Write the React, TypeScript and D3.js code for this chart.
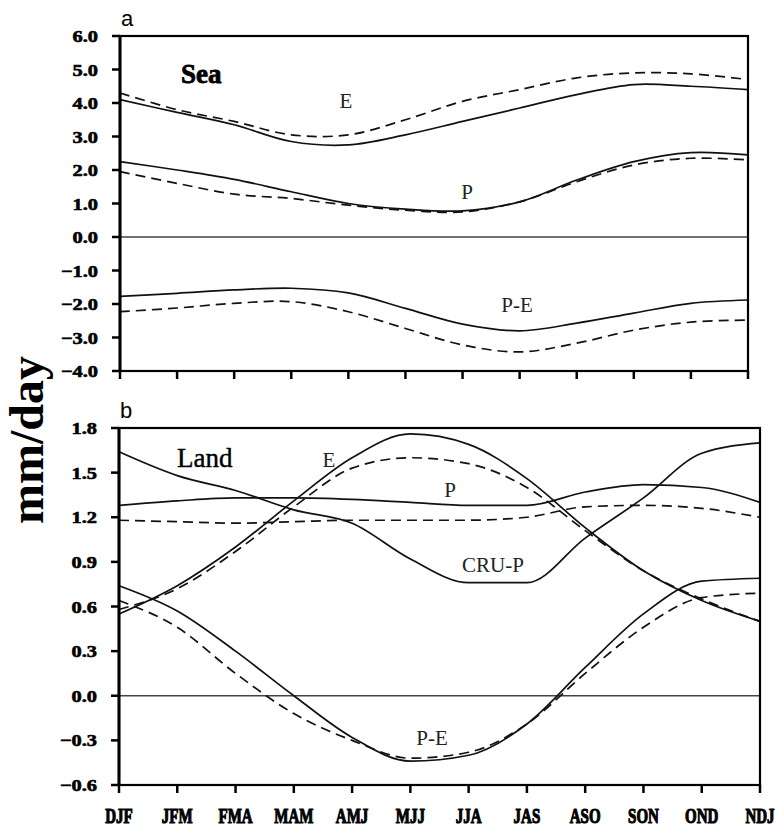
import React, { useRef, useEffect } from 'react';
import * as d3 from 'd3';

// seasons on the x axis
const seasons = ['DJF', 'JFM', 'FMA', 'MAM', 'AMJ', 'MJJ', 'JJA', 'JAS', 'ASO', 'SON', 'OND', 'NDJ'];

// panel a: Sea (solid = model, dashed = reference)
const seaE = [4.1, 3.72, 3.35, 2.85, 2.75, 3.05, 3.45, 3.85, 4.25, 4.55, 4.5, 4.4];
const seaEDash = [4.3, 3.8, 3.45, 3.05, 3.05, 3.5, 4.05, 4.4, 4.75, 4.9, 4.87, 4.7];
const seaP = [2.25, 2.0, 1.72, 1.35, 1.0, 0.83, 0.78, 1.05, 1.7, 2.25, 2.52, 2.45];
const seaPDash = [1.95, 1.6, 1.28, 1.15, 0.95, 0.8, 0.75, 1.05, 1.65, 2.15, 2.35, 2.3];
const seaPE = [-1.77, -1.68, -1.58, -1.53, -1.67, -2.13, -2.6, -2.8, -2.57, -2.27, -1.98, -1.88];
const seaPEDash = [-2.23, -2.12, -1.98, -1.93, -2.23, -2.73, -3.22, -3.43, -3.17, -2.78, -2.54, -2.48];
const seaTicks = [-4, -3, -2, -1, 0, 1, 2, 3, 4, 5, 6];

// panel b: Land
const landE = [0.55, 0.74, 1.0, 1.31, 1.6, 1.76, 1.69, 1.46, 1.13, 0.84, 0.64, 0.5];
const landEDash = [0.58, 0.72, 0.97, 1.27, 1.53, 1.6, 1.56, 1.4, 1.11, 0.84, 0.65, 0.5];
const landP = [1.28, 1.31, 1.33, 1.33, 1.32, 1.3, 1.28, 1.28, 1.37, 1.42, 1.4, 1.3];
const landPDash = [1.18, 1.17, 1.16, 1.17, 1.18, 1.18, 1.18, 1.2, 1.27, 1.28, 1.26, 1.2];
const landCRU = [1.64, 1.48, 1.38, 1.25, 1.16, 0.92, 0.76, 0.76, 1.06, 1.33, 1.63, 1.7];
const landPE = [0.74, 0.57, 0.3, 0.0, -0.28, -0.44, -0.4, -0.19, 0.19, 0.55, 0.77, 0.79];
const landPEDash = [0.64, 0.46, 0.15, -0.12, -0.3, -0.42, -0.38, -0.19, 0.15, 0.46, 0.66, 0.69];
const landTicks = [-0.6, -0.3, 0, 0.3, 0.6, 0.9, 1.2, 1.5, 1.8];

const serif = '"Liberation Serif", "DejaVu Serif", serif';

const App = () => {
  const svgRef = useRef(null);

  useEffect(() => {
    document.body.style.margin = '0';
    const svg = d3.select(svgRef.current);
    svg.selectAll('*').remove();

    const drawPanel = (cfg) => {
      const x = d3.scalePoint().domain(seasons).range([cfg.left, cfg.right]);
      const y = d3.scaleLinear().domain(cfg.domain).range([cfg.bottom, cfg.top]);
      const g = svg.append('g');

      // zero line
      g.append('line')
        .attr('x1', cfg.left).attr('x2', cfg.right)
        .attr('y1', y(0)).attr('y2', y(0))
        .attr('stroke', '#444').attr('stroke-width', 1.6);

      const line = d3.line()
        .x((d, i) => x(seasons[i]))
        .y(d => y(d))
        .curve(cfg.curve);

      cfg.series.forEach(s => {
        g.append('path')
          .datum(s.values)
          .attr('d', line)
          .attr('fill', 'none')
          .attr('stroke', '#111')
          .attr('stroke-width', 1.7)
          .attr('stroke-dasharray', s.dashed ? '10,6' : null);
      });

      // frame
      g.append('rect')
        .attr('x', cfg.left).attr('y', cfg.top)
        .attr('width', cfg.right - cfg.left).attr('height', cfg.bottom - cfg.top)
        .attr('fill', 'none').attr('stroke', '#000').attr('stroke-width', 2.2);
      g.append('line')
        .attr('x1', cfg.left).attr('x2', cfg.left)
        .attr('y1', cfg.top).attr('y2', cfg.bottom)
        .attr('stroke', '#000').attr('stroke-width', 3);

      // y ticks
      cfg.ticks.forEach(t => {
        g.append('line')
          .attr('x1', cfg.left - 8).attr('x2', cfg.left)
          .attr('y1', y(t)).attr('y2', y(t))
          .attr('stroke', '#000').attr('stroke-width', 2.5);
        g.append('text')
          .attr('transform', `translate(${cfg.left - 22},${y(t) + 6}) scale(1.2,1)`)
          .attr('text-anchor', 'end')
          .style('font-family', serif)
          .style('font-weight', 'bold')
          .style('font-size', '17px')
          .style('stroke', '#000')
          .style('stroke-width', 0.6)
          .text(d3.format('.1f')(t));
      });

      // x ticks
      seasons.forEach(s => {
        g.append('line')
          .attr('x1', x(s)).attr('x2', x(s))
          .attr('y1', cfg.bottom).attr('y2', cfg.bottom + 8)
          .attr('stroke', '#000').attr('stroke-width', 2.5);
      });

      // panel letter
      g.append('text')
        .attr('x', cfg.left + 1).attr('y', cfg.top - 10)
        .style('font-family', '"Liberation Sans", Arial, sans-serif')
        .style('font-size', '22px')
        .text(cfg.letter);

      // title
      g.append('text')
        .attr('x', cfg.titleX).attr('y', cfg.titleY)
        .style('font-family', serif)
        .style('font-weight', cfg.titleBold ? 'bold' : 'normal')
        .style('font-size', '27px')
        .style('stroke', '#000')
        .style('stroke-width', cfg.titleBold ? 0.8 : 0.4)
        .text(cfg.title);

      // curve labels
      cfg.labels.forEach(l => {
        g.append('text')
          .attr('x', l.x).attr('y', l.y)
          .attr('text-anchor', 'middle')
          .style('font-family', serif)
          .style('font-size', '21px')
          .style('fill', '#222')
          .text(l.text);
      });

      return x;
    };

    drawPanel({
      left: 120, right: 748, top: 36, bottom: 371,
      domain: [-4, 6], ticks: seaTicks, letter: 'a',
      title: 'Sea', titleX: 181, titleY: 83, titleBold: true,
      curve: d3.curveCatmullRom,
      series: [
        { values: seaE }, { values: seaEDash, dashed: true },
        { values: seaP }, { values: seaPDash, dashed: true },
        { values: seaPE }, { values: seaPEDash, dashed: true },
      ],
      labels: [
        { text: 'E', x: 346, y: 108 },
        { text: 'P', x: 467, y: 199 },
        { text: 'P-E', x: 517, y: 312 },
      ],
    });

    const xb = drawPanel({
      left: 119, right: 760, top: 428, bottom: 785,
      domain: [-0.6, 1.8], ticks: landTicks, letter: 'b',
      title: 'Land', titleX: 177, titleY: 467, titleBold: false,
      curve: d3.curveMonotoneX,
      series: [
        { values: landE }, { values: landEDash, dashed: true },
        { values: landP }, { values: landPDash, dashed: true },
        { values: landCRU },
        { values: landPE }, { values: landPEDash, dashed: true },
      ],
      labels: [
        { text: 'E', x: 329, y: 467 },
        { text: 'P', x: 450, y: 497 },
        { text: 'CRU-P', x: 493, y: 572 },
        { text: 'P-E', x: 432, y: 745 },
      ],
    });

    // season labels
    seasons.forEach(s => {
      svg.append('text')
        .attr('transform', `translate(${xb(s)},823) scale(1,1.4)`)
        .attr('text-anchor', 'middle')
        .style('font-family', serif)
        .style('font-weight', 'bold')
        .style('font-size', '15px')
        .style('stroke', '#000')
        .style('stroke-width', 0.8)
        .text(s);
    });

    // shared y label
    svg.append('text')
      .attr('transform', 'translate(43,440) rotate(-90)')
      .attr('text-anchor', 'middle')
      .style('font-family', serif)
      .style('font-weight', 'bold')
      .style('font-size', '48px')
      .text('mm/day');
  }, []);

  return (
    <svg ref={svgRef} width={780} height={828} style={{ display: 'block', background: '#fff' }} />
  );
};

export default App;
